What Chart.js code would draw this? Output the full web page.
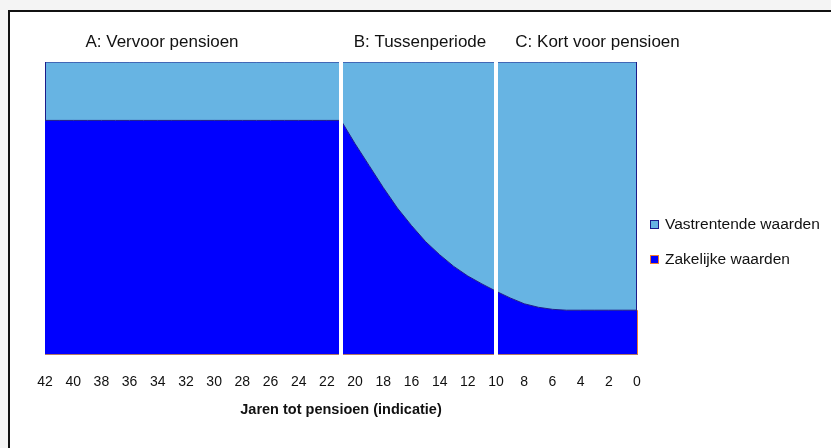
<!DOCTYPE html>
<html>
<head>
<meta charset="utf-8">
<script src="https://cdn.jsdelivr.net/npm/chart.js@4"></script>
<style>
  html, body { margin: 0; padding: 0; background: #f4f4f4; overflow: hidden; }
  #frame { position: absolute; left: 8px; top: 10px; width: 900px; height: 500px;
           border-left: 2px solid #111; border-top: 2px solid #111; background: #fff; }
  #wrap { position: absolute; left: 0; top: 0; width: 831px; height: 448px; }
</style>
</head>
<body>
<div id="frame"></div>
<div id="wrap"><canvas id="grafiek" width="831" height="448"></canvas></div>
<script>
// Gegevens
const jaren = [42, 41, 40, 39, 38, 37, 36, 35, 34, 33, 32, 31, 30, 29, 28, 27, 26, 25, 24, 23, 22,
               21, 20, 19, 18, 17, 16, 15, 14, 13, 12, 11, 10, 9, 8, 7, 6, 5, 4, 3, 2, 1, 0];
const zakelijk = [80, 80, 80, 80, 80, 80, 80, 80, 80, 80, 80, 80, 80, 80, 80, 80, 80, 80, 80, 80, 80,
                  80, 72, 64.5, 57, 50, 44, 38.5, 34, 30, 26.7, 24, 21.5, 19.2, 17.2, 16, 15.3, 15, 15, 15, 15, 15, 15];
const vastrentend = [20, 20, 20, 20, 20, 20, 20, 20, 20, 20, 20, 20, 20, 20, 20, 20, 20, 20, 20, 20, 20,
                     20, 28, 35.5, 43, 50, 56, 61.5, 66, 70, 73.3, 76, 78.5, 80.8, 82.8, 84, 84.7, 85, 85, 85, 85, 85, 85];
const scheidingen = [21, 10];
const fases = ['A: Vervoor pensioen', 'B: Tussenperiode', 'C: Kort voor pensioen'];
const faseMidden = [33.7, 15.4, 2.8];
const reeksNamen = ['Vastrentende waarden', 'Zakelijke waarden'];
const asTitel = 'Jaren tot pensioen (indicatie)';

const LICHTBLAUW = '#67b4e3';
const BLAUW = '#0000ff';
const MARINE = '#1c1c8a';
const ORANJE = '#f07a30';
const FONT = '"Liberation Sans", Arial, sans-serif';

// Witte scheidingslijnen, fase-labels en legenda
const extraTekenen = {
  id: 'extraTekenen',
  afterDatasetsDraw(chart) {
    const ctx = chart.ctx;
    const x = chart.scales.x;
    const y = chart.scales.y;
    const ca = chart.chartArea;
    ctx.save();
    ctx.strokeStyle = '#ffffff';
    ctx.lineWidth = 4;
    scheidingen.forEach(j => {
      const px = Math.round(x.getPixelForValue(j));
      ctx.beginPath();
      ctx.moveTo(px, ca.top - 1);
      ctx.lineTo(px, ca.bottom + 1);
      ctx.stroke();
    });
    // randen van het lichte vlak
    const eind = y.getPixelForValue(zakelijk[zakelijk.length - 1]);
    ctx.strokeStyle = MARINE;
    ctx.lineWidth = 1;
    ctx.beginPath();
    ctx.moveTo(ca.left + 0.5, ca.top);
    ctx.lineTo(ca.left + 0.5, y.getPixelForValue(zakelijk[0]));
    ctx.moveTo(ca.right - 0.5, ca.top);
    ctx.lineTo(ca.right - 0.5, eind);
    ctx.stroke();
    ctx.strokeStyle = ORANJE;
    ctx.beginPath();
    ctx.moveTo(ca.right + 0.5, eind);
    ctx.lineTo(ca.right + 0.5, ca.bottom);
    ctx.stroke();

    ctx.fillStyle = '#111';
    ctx.font = '17px ' + FONT;
    ctx.textAlign = 'center';
    ctx.textBaseline = 'middle';
    fases.forEach((f, i) => {
      ctx.fillText(f, x.getPixelForValue(faseMidden[i]), 42);
    });

    // legenda
    const kleuren = [[LICHTBLAUW, MARINE], [BLAUW, ORANJE]];
    const ys = [225, 260];
    ctx.textAlign = 'left';
    ctx.font = '15.5px ' + FONT;
    reeksNamen.forEach((n, i) => {
      ctx.fillStyle = kleuren[i][0];
      ctx.fillRect(650.5, ys[i] - 4.5, 8, 8);
      ctx.strokeStyle = kleuren[i][1];
      ctx.lineWidth = 1;
      ctx.strokeRect(650.5, ys[i] - 4.5, 8, 8);
      ctx.fillStyle = '#111';
      ctx.fillText(n, 665, ys[i]);
    });
    ctx.restore();
  }
};

const ctx = document.getElementById('grafiek').getContext('2d');
new Chart(ctx, {
  type: 'line',
  data: {
    datasets: [
      {
        label: reeksNamen[1],
        data: jaren.map((j, i) => ({ x: j, y: zakelijk[i] })),
        backgroundColor: BLAUW,
        borderColor: MARINE,
        borderWidth: 1,
        fill: 'origin',
        pointRadius: 0,
        tension: 0
      },
      {
        label: reeksNamen[0],
        data: jaren.map((j, i) => ({ x: j, y: vastrentend[i] })),
        backgroundColor: LICHTBLAUW,
        borderColor: MARINE,
        borderWidth: 1,
        fill: '-1',
        pointRadius: 0,
        tension: 0
      }
    ]
  },
  options: {
    responsive: false,
    animation: false,
    layout: { padding: { left: 45, right: 194, top: 62, bottom: 0 } },
    plugins: {
      legend: { display: false },
      tooltip: { enabled: false }
    },
    scales: {
      x: {
        type: 'linear',
        reverse: true,
        min: 0,
        max: 42,
        afterFit(scale) { scale.height = 94; },
        grid: { display: false, drawTicks: false },
        border: { color: '#b07868', width: 1 },
        ticks: {
          stepSize: 2,
          padding: 20,
          color: '#111',
          font: { family: FONT, size: 14 }
        },
        title: {
          display: true,
          text: asTitel,
          color: '#111',
          font: { family: FONT, size: 14.5, weight: 'bold' },
          padding: { top: 0, bottom: 29 }
        }
      },
      y: {
        display: false,
        stacked: true,
        min: 0,
        max: 100
      }
    }
  },
  plugins: [extraTekenen]
});
</script>
</body>
</html>
